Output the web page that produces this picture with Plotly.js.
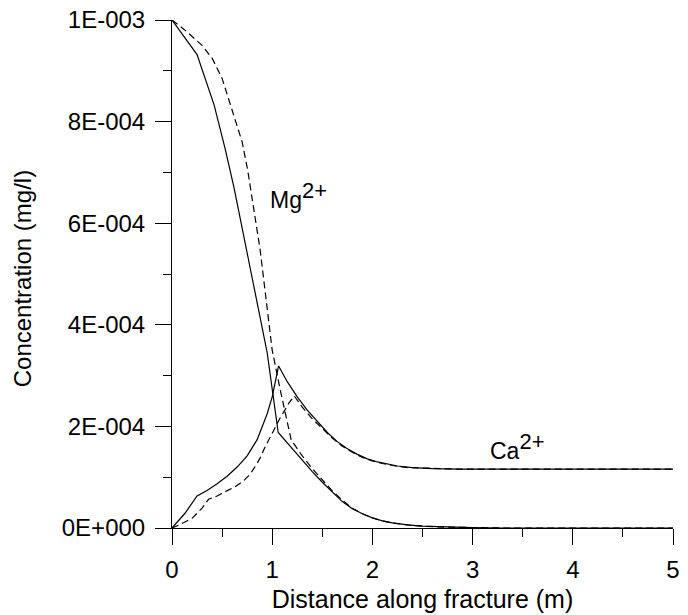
<!DOCTYPE html>
<html>
<head>
<meta charset="utf-8">
<script src="https://cdn.plot.ly/plotly-3.0.1.min.js"></script>
<style>html,body{margin:0;padding:0;background:#fff;}#chart{width:688px;height:615px;}</style>
</head>
<body>
<div id="chart"></div>
<script>
// Concentration values in units of 1E-004 mg/l
var mgSolidX = [0, 0.25, 0.42, 0.53, 0.62, 0.75, 0.95, 1.06, 1.2, 1.3, 1.4, 1.5, 1.6, 1.7, 1.8, 1.9, 2.0, 2.1, 2.2, 2.35, 2.5, 2.7, 3.0, 3.3, 5];
var mgSolidY = [10, 9.32, 8.33, 7.47, 6.69, 5.41, 3.45, 1.88, 1.56, 1.34, 1.11, 0.90, 0.70, 0.52, 0.38, 0.28, 0.2, 0.14, 0.1, 0.06, 0.035, 0.018, 0.006, 0, 0];

var mgDashX = [0, 0.13, 0.3, 0.4, 0.5, 0.6, 0.7, 0.755, 0.88, 1.0, 1.08, 1.19, 1.25, 1.3, 1.4, 1.5, 1.6, 1.7, 1.8, 1.9, 2.0, 2.1, 2.2, 2.35, 2.5, 2.7, 3.0, 3.3, 5];
var mgDashY = [10, 9.8, 9.5, 9.25, 8.85, 8.2, 7.6, 7.05, 5.47, 3.5, 2.72, 1.73, 1.55, 1.42, 1.17, 0.94, 0.73, 0.55, 0.39, 0.28, 0.2, 0.14, 0.1, 0.06, 0.035, 0.018, 0.006, 0, 0];

var caSolidX = [0, 0.13, 0.25, 0.35, 0.45, 0.55, 0.65, 0.75, 0.85, 0.9, 0.95, 1.0, 1.064, 1.15, 1.25, 1.35, 1.45, 1.55, 1.65, 1.75, 1.85, 1.95, 2.05, 2.15, 2.25, 2.4, 2.6, 2.85, 5];
var caSolidY = [0, 0.29, 0.63, 0.74, 0.87, 1.02, 1.2, 1.42, 1.74, 2.0, 2.25, 2.58, 3.19, 2.88, 2.58, 2.32, 2.09, 1.88, 1.70, 1.56, 1.45, 1.36, 1.30, 1.26, 1.22, 1.19, 1.17, 1.16, 1.16];

var caDashX = [0, 0.07, 0.2, 0.3, 0.365, 0.45, 0.53, 0.62, 0.715, 0.78, 0.83, 0.88, 0.93, 0.98, 1.03, 1.08, 1.12, 1.17, 1.22, 1.3, 1.4, 1.5, 1.6, 1.7, 1.8, 1.9, 2.0, 2.1, 2.2, 2.35, 2.6, 2.85, 5];
var caDashY = [0, 0.06, 0.19, 0.39, 0.565, 0.63, 0.715, 0.8, 0.93, 1.06, 1.21, 1.38, 1.6, 1.8, 2.0, 2.17, 2.3, 2.47, 2.6, 2.38, 2.15, 1.95, 1.77, 1.61, 1.49, 1.39, 1.32, 1.27, 1.23, 1.19, 1.17, 1.16, 1.16];

var yTickVals = [0, 2, 4, 6, 8, 10];
var yTickText = ["0E+000", "2E-004", "4E-004", "6E-004", "8E-004", "1E-003"];
var xTickVals = [0, 1, 2, 3, 4, 5];
var xTickText = ["0", "1", "2", "3", "4", "5"];

var scale = 1e-4;
function sc(a) { return a.map(function (v) { return v * scale; }); }

var FONT = "Arial, 'Liberation Sans', sans-serif";
var solid = {color: "#000", width: 1.2};
var dashed = {color: "#000", width: 1.2, dash: "7px,4px"};

var traces = [
  {x: mgSolidX, y: sc(mgSolidY), mode: "lines", line: solid, name: "Mg"},
  {x: mgDashX, y: sc(mgDashY), mode: "lines", line: dashed, name: "Mg dashed"},
  {x: caSolidX, y: sc(caSolidY), mode: "lines", line: solid, name: "Ca"},
  {x: caDashX, y: sc(caDashY), mode: "lines", line: dashed, name: "Ca dashed"}
];

var layout = {
  width: 688, height: 615,
  margin: {l: 172, r: 15, t: 20, b: 87},
  paper_bgcolor: "#fff", plot_bgcolor: "#fff",
  showlegend: false,
  font: {family: FONT, size: 24, color: "#000"},
  xaxis: {
    range: [0, 5], showgrid: false, zeroline: false,
    showline: true, linecolor: "#000", linewidth: 1,
    ticks: "outside", ticklen: 16, tickwidth: 1, tickcolor: "#000",
    tickmode: "array", tickvals: xTickVals, ticktext: xTickText,
    ticklabelstandoff: 4,
    minor: {tickmode: "linear", tick0: 0, dtick: 0.5, ticks: "outside", ticklen: 8, tickwidth: 1, tickcolor: "#000"},
    tickfont: {family: FONT, size: 24},
    title: {text: "Distance along fracture (m)", font: {family: FONT, size: 25}, standoff: 8},
    fixedrange: true
  },
  yaxis: {
    range: [0, 1e-3], showgrid: false, zeroline: false,
    showline: true, linecolor: "#000", linewidth: 1,
    ticks: "outside", ticklen: 16, tickwidth: 1, tickcolor: "#000",
    tickmode: "array", tickvals: sc(yTickVals), ticktext: yTickText,
    ticklabelstandoff: 5,
    minor: {tickmode: "linear", tick0: 0, dtick: 1e-4, ticks: "outside", ticklen: 8, tickwidth: 1, tickcolor: "#000"},
    tickfont: {family: FONT, size: 24},
    fixedrange: true
  },
  annotations: [
    {x: -0.299, y: 0.49, xref: "paper", yref: "paper", xanchor: "center", yanchor: "middle", showarrow: false,
     textangle: -90, text: "Concentration (mg/l)", font: {family: FONT, size: 24}},
    {x: 0.96, y: 6.55e-4, xref: "x", yref: "y", xanchor: "left", yanchor: "middle", showarrow: false,
     text: "Mg<sup><span style='font-size:22px'>2+</span></sup>", font: {family: FONT, size: 23}},
    {x: 3.15, y: 1.6e-4, xref: "x", yref: "y", xanchor: "left", yanchor: "middle", showarrow: false,
     text: "Ca<sup><span style='font-size:22px'>2+</span></sup>", font: {family: FONT, size: 23}}
  ]
};

Plotly.newPlot("chart", traces, layout, {displayModeBar: false, staticPlot: true});
</script>
</body>
</html>
